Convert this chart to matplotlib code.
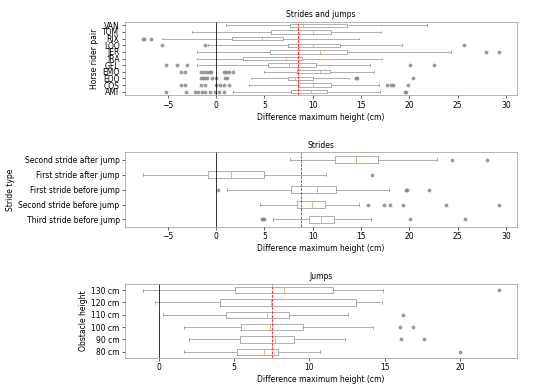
import matplotlib
matplotlib.use('Agg')
import matplotlib.pyplot as plt

# --- strides and jumps, per horse rider pair (bottom to top)
pair_labels = ['AMI', 'COS', 'EDO', 'EMO', 'GFL', 'IRA', 'JER', 'LOO', 'RIX', 'TOM', 'VAN']
pair_whislo = [1.8, 3.4, 3.6, 5.0, -2.0, -2.0, -2.0, -0.8, -5.6, -2.5, 1.0]
pair_q1 = [7.8, 8.5, 7.4, 8.4, 5.4, 2.8, 5.6, 7.4, 1.6, 5.7, 7.6]
pair_med = [9.8, 10.0, 8.2, 10.8, 7.5, 7.2, 10.8, 10.0, 4.8, 10.0, 9.0]
pair_q3 = [11.5, 11.9, 10.0, 11.8, 10.3, 8.9, 13.5, 12.8, 6.9, 11.9, 13.5]
pair_whishi = [17.0, 16.9, 13.8, 16.3, 15.9, 17.2, 24.3, 19.2, 14.8, 17.1, 21.8]
pair_fliers = [
    [-5.2, -3.1, -2.2, -1.9, -1.5, -1.2, -0.6, -0.1, 0.3, 0.8, 19.6, 19.7],
    [-3.6, -3.2, -1.6, -1.2, 0.0, 0.4, 0.8, 1.3, 17.7, 18.1, 18.3, 19.9],
    [-1.6, -1.4, -1.2, -0.9, -0.4, 0.0, 0.9, 1.1, 14.5, 14.6, 20.4],
    [-3.6, -3.2, -1.6, -1.3, -0.9, -0.6, -0.5, 0.8, 1.0, 1.3, 1.8],
    [-5.2, -4.0, -3.0, 20.1, 22.6],
    [],
    [27.9, 29.3],
    [-5.6, -1.2, 25.7],
    [-7.6, -7.5, -6.7],
    [],
    [],
]
pair_mean = 8.5

# --- strides, per stride type (bottom to top)
stride_labels = ['Third stride before jump', 'Second stride before jump', 'First stride before jump',
                 'First stride after jump', 'Second stride after jump']
stride_whislo = [5.9, 4.5, 1.1, -7.6, 7.7]
stride_q1 = [9.6, 8.4, 7.8, -0.8, 12.3]
stride_med = [10.9, 9.9, 10.4, 1.5, 14.5]
stride_q3 = [12.2, 11.3, 12.4, 5.0, 16.8]
stride_whishi = [16.0, 14.8, 17.9, 11.4, 22.9]
stride_fliers = [
    [4.8, 4.9, 5.0, 20.1, 25.8],
    [15.7, 17.4, 18.0, 19.3, 23.8, 29.3],
    [0.2, 19.7, 19.8, 22.0],
    [16.1],
    [24.4, 28.0],
]
stride_mean = 8.8

# --- jumps, per obstacle height (bottom to top)
jump_labels = ['80 cm', '90 cm', '100 cm', '110 cm', '120 cm', '130 cm']
jump_whislo = [1.7, 2.0, 1.7, 0.3, -0.2, -1.05]
jump_q1 = [5.2, 5.4, 5.5, 4.5, 4.1, 5.1]
jump_med = [7.0, 7.7, 7.4, 7.2, 7.45, 8.3]
jump_q3 = [7.95, 9.0, 9.6, 8.65, 13.1, 11.6]
jump_whishi = [10.7, 12.4, 14.2, 12.6, 14.8, 14.9]
jump_fliers = [
    [20.0],
    [16.1, 17.6],
    [16.0, 16.9],
    [16.2],
    [],
    [22.6],
]
jump_mean = 7.5


def make_stats(whislo, q1, med, q3, whishi, fliers):
    stats = []
    for i in range(len(med)):
        stats.append(dict(whislo=whislo[i], q1=q1[i], med=med[i], q3=q3[i],
                          whishi=whishi[i], fliers=fliers[i]))
    return stats


fig = plt.figure(figsize=(10, 390 / 55), dpi=55)

panels = [
    ([0.227, 0.756, 0.713, 0.188], 'Strides and jumps', 'Horse rider pair', pair_labels,
     make_stats(pair_whislo, pair_q1, pair_med, pair_q3, pair_whishi, pair_fliers), pair_mean),
    ([0.227, 0.418, 0.713, 0.192], 'Strides', 'Stride type', stride_labels,
     make_stats(stride_whislo, stride_q1, stride_med, stride_q3, stride_whishi, stride_fliers), stride_mean),
    ([0.227, 0.082, 0.713, 0.190], 'Jumps', 'Obstacle height', jump_labels,
     make_stats(jump_whislo, jump_q1, jump_med, jump_q3, jump_whishi, jump_fliers), jump_mean),
]

box_col = '#9a9a9a'
for rect, title, ylabel, labels, stats, mean in panels:
    ax = fig.add_axes(rect)
    ax.bxp(stats, vert=False,
           boxprops=dict(color=box_col, lw=1),
           whiskerprops=dict(color=box_col, lw=1),
           capprops=dict(color=box_col, lw=1),
           medianprops=dict(color='#f5a050', lw=1),
           flierprops=dict(marker='o', markersize=4, markerfacecolor='#888888',
                           markeredgecolor='#888888', alpha=0.8))
    ax.set_yticks(range(1, len(labels) + 1))
    ax.set_yticklabels(labels)
    ax.axvline(0, color='k', lw=1)
    ax.axvline(mean, color='r', lw=1, ls='--')
    ax.set_title(title, fontsize=10)
    ax.set_ylabel(ylabel)
    ax.set_xlabel('Difference maximum height (cm)')
    for sp in ax.spines.values():
        sp.set_color('#888888')

plt.savefig('out.png', dpi=55)
